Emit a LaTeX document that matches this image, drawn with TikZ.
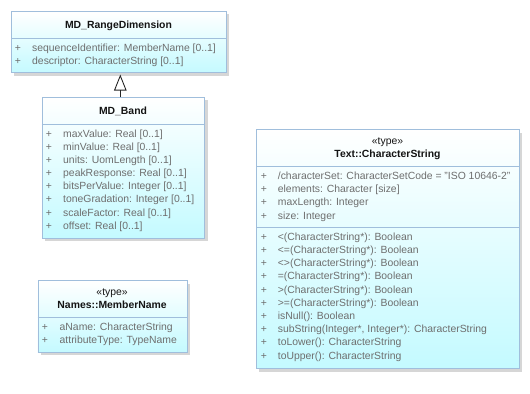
\documentclass[tikz,border=0pt]{standalone}
\usepackage{fontspec}
\setmainfont{Liberation Sans}
\usetikzlibrary{arrows.meta,shadows}

\definecolor{umlborder}{RGB}{160,190,220}
\definecolor{umlshadow}{RGB}{214,214,214}
\definecolor{umlfill}{RGB}{196,250,255}
\definecolor{umltext}{RGB}{110,110,110}
\definecolor{umltitle}{RGB}{20,20,20}

\tikzset{
  classbox/.style={rectangle, draw=umlborder, line width=0.9bp, inner sep=0pt,
    anchor=north west, top color=white, bottom color=umlfill,
    drop shadow={shadow xshift=3bp, shadow yshift=-3bp, fill=umlshadow, opacity=1}},
  separator/.style={draw=umlborder, line width=0.9bp},
  umlfont/.style={font=\fontsize{10.4bp}{12bp}\selectfont},
  title/.style={umlfont, inner sep=0pt, anchor=mid, text=umltitle, font=\fontsize{10.4bp}{12bp}\selectfont\bfseries},
  stereo/.style={umlfont, inner sep=0pt, anchor=mid, text=umltitle},
  plus/.style={umlfont, inner sep=0pt, anchor=mid, text=umltext},
  attr/.style={umlfont, inner sep=0pt, anchor=mid west, text=umltext},
  generalization/.style={draw=black!85, line width=0.9bp,
    -{Triangle[open, length=16bp, width=12.5bp, line width=0.9bp]}}
}

% rows of a compartment: #1 name prefix, #2 x of the "+", #3 x of the text,
% #4 y of the first row, #5 row pitch, #6 list of entries
\newcommand{\umlrows}[6]{%
  \foreach \entry [count=\i from 0] in {#6} {
    \node[plus] (#1p\i) at (#2, #4+#5*\i) {+};
    \node[attr] (#1t\i) at (#3, #4+#5*\i) {\entry};
  }%
}

\begin{document}
\begin{tikzpicture}[x=1bp, y=-1bp]
  \useasboundingbox (0,0) rectangle (530,393);

  % MD_RangeDimension
  \node[classbox, minimum width=215bp, minimum height=61.3bp] (rangedim) at (11,11) {};
  \draw[separator] ([yshift=-27bp]rangedim.north west) -- ([yshift=-27bp]rangedim.north east);
  \node[title] (rangedim-name) at (118.5,26) {MD\_RangeDimension};
  \umlrows{rd}{17.9}{32}{48.4}{13.4}{
    sequenceIdentifier: MemberName [0..1],
    descriptor: CharacterString [0..1]}

  % MD_Band
  \node[classbox, minimum width=162.8bp, minimum height=140.5bp] (band) at (41.6,97) {};
  \draw[separator] ([yshift=-27bp]band.north west) -- ([yshift=-27bp]band.north east);
  \node[title] (band-name) at (123,112.2) {MD\_Band};
  \umlrows{bd}{49}{63}{134.5}{13.17}{
    maxValue: Real [0..1],
    minValue: Real [0..1],
    units: UomLength [0..1],
    peakResponse: Real [0..1],
    bitsPerValue: Integer [0..1],
    toneGradation: Integer [0..1],
    scaleFactor: Real [0..1],
    offset: Real [0..1]}

  % Names::MemberName
  \node[classbox, minimum width=149.3bp, minimum height=71.6bp] (membername) at (37.5,280.4) {};
  \draw[separator] ([yshift=-37.2bp]membername.north west) -- ([yshift=-37.2bp]membername.north east);
  \node[stereo] (mn-stereo) at (112.1,292.6) {«type»};
  \node[title] (mn-name) at (112.1,305.7) {Names::MemberName};
  \umlrows{mn}{45}{59.5}{328}{13.2}{
    aName: CharacterString,
    attributeType: TypeName}

  % Text::CharacterString
  \node[classbox, minimum width=263bp, minimum height=238.8bp] (charstring) at (256,129.4) {};
  \draw[separator] ([yshift=-37.2bp]charstring.north west) -- ([yshift=-37.2bp]charstring.north east);
  \draw[separator] ([yshift=-98bp]charstring.north west) -- ([yshift=-98bp]charstring.north east);
  \node[stereo] (cs-stereo) at (387.5,141.9) {«type»};
  \node[title] (cs-name) at (387.5,154.7) {Text::CharacterString};
  \umlrows{csa}{264}{277.7}{176.7}{13.3}{
    /characterSet: CharacterSetCode = "ISO 10646-2",
    elements: Character [size],
    maxLength: Integer,
    size: Integer}
  \umlrows{cso}{264}{277.7}{237.8}{13.18}{
    <(CharacterString*): Boolean,
    <=(CharacterString*): Boolean,
    <>(CharacterString*): Boolean,
    =(CharacterString*): Boolean,
    >(CharacterString*): Boolean,
    >=(CharacterString*): Boolean,
    isNull(): Boolean,
    {subString(Integer*, Integer*): CharacterString},
    toLower(): CharacterString,
    toUpper(): CharacterString}

  % generalization MD_Band -> MD_RangeDimension
  \coordinate (genx) at (120.3,0);
  \draw[generalization] (band.north -| genx) -- ([yshift=-1.3bp]rangedim.south -| genx);
\end{tikzpicture}
\end{document}
